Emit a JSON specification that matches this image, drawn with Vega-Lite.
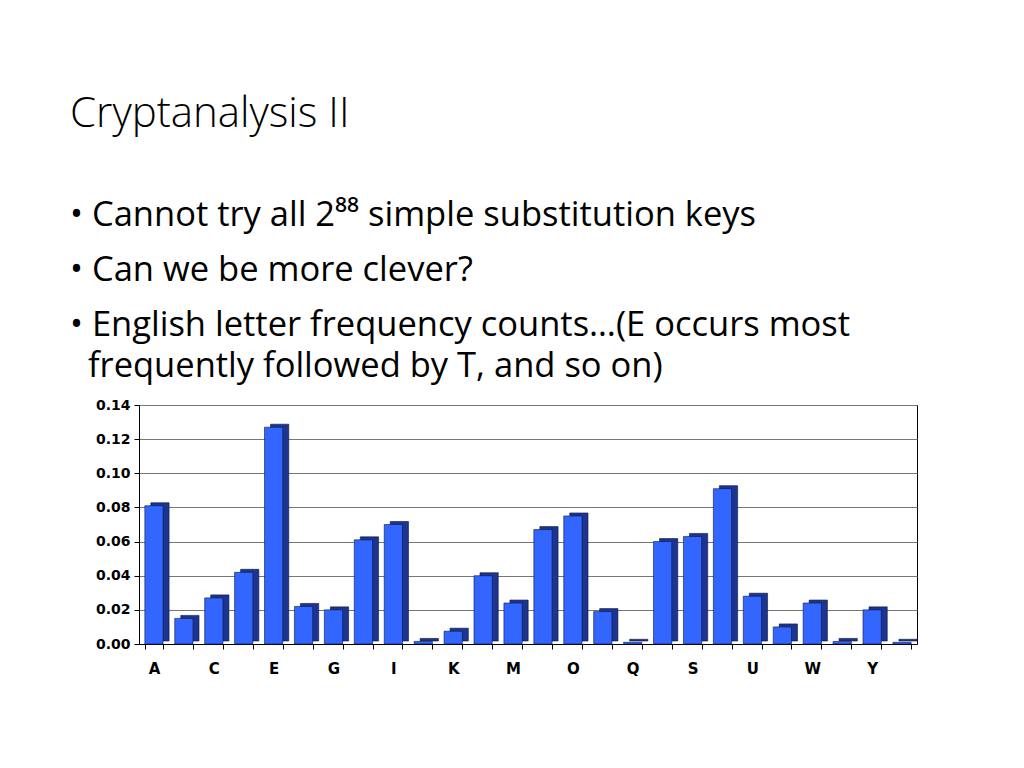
{
  "$schema": "https://vega.github.io/schema/vega-lite/v6.json",
  "width": 778,
  "height": 239,
  "autosize": "none",
  "padding": {"left": 139, "top": 405, "right": 107, "bottom": 124},
  "background": "white",
  "title": {
    "text": "Cryptanalysis II",
    "subtitle": [
      "• Cannot try all 2⁸⁸ simple substitution keys",
      "\u200b", "\u200b", "\u200b",
      "• Can we be more clever?",
      "\u200b", "\u200b", "\u200b",
      "• English letter frequency counts…(E occurs most",
      "\u200b", "\u200b",
      "\u200b\u00a0\u00a0frequently followed by T, and so on)"
    ],
    "anchor": "start",
    "frame": "group",
    "dx": -69,
    "offset": 13,
    "font": "Open Sans",
    "fontSize": 42,
    "fontWeight": 300,
    "color": "black",
    "subtitleFont": "Open Sans",
    "subtitleFontSize": 34.5,
    "subtitleFontWeight": "normal",
    "subtitleColor": "black",
    "subtitleLineHeight": 13.8,
    "subtitlePadding": 63
  },
  "data": {
    "values": [
      {"letter": "A", "freq": 0.081},
      {"letter": "B", "freq": 0.015},
      {"letter": "C", "freq": 0.027},
      {"letter": "D", "freq": 0.042},
      {"letter": "E", "freq": 0.127},
      {"letter": "F", "freq": 0.022},
      {"letter": "G", "freq": 0.020},
      {"letter": "H", "freq": 0.061},
      {"letter": "I", "freq": 0.070},
      {"letter": "J", "freq": 0.0015},
      {"letter": "K", "freq": 0.0075},
      {"letter": "L", "freq": 0.040},
      {"letter": "M", "freq": 0.024},
      {"letter": "N", "freq": 0.067},
      {"letter": "O", "freq": 0.075},
      {"letter": "P", "freq": 0.019},
      {"letter": "Q", "freq": 0.001},
      {"letter": "R", "freq": 0.060},
      {"letter": "S", "freq": 0.063},
      {"letter": "T", "freq": 0.091},
      {"letter": "U", "freq": 0.028},
      {"letter": "V", "freq": 0.010},
      {"letter": "W", "freq": 0.024},
      {"letter": "X", "freq": 0.0015},
      {"letter": "Y", "freq": 0.020},
      {"letter": "Z", "freq": 0.001}
    ]
  },
  "encoding": {
    "x": {
      "field": "letter",
      "type": "nominal",
      "sort": null,
      "scale": {"paddingInner": 0.39, "paddingOuter": 0.195},
      "axis": {
        "title": null,
        "labelAngle": 0,
        "tickBand": "extent",
        "labelExpr": "indexof('ACEGIKMOQSUWY', datum.value) >= 0 ? datum.value : ''",
        "labelFont": "DejaVu Sans",
        "labelFontWeight": "bold",
        "labelFontSize": 15,
        "labelColor": "black",
        "labelPadding": 12,
        "tickColor": "black",
        "tickSize": 5,
        "domainColor": "black",
        "grid": false
      }
    },
    "y": {
      "field": "freq",
      "type": "quantitative",
      "scale": {"domain": [0, 0.14], "nice": false},
      "axis": {
        "title": null,
        "values": [0, 0.02, 0.04, 0.06, 0.08, 0.1, 0.12, 0.14],
        "format": ".2f",
        "labelFont": "DejaVu Sans",
        "labelFontWeight": "bold",
        "labelFontSize": 14,
        "labelColor": "black",
        "labelPadding": 4,
        "tickColor": "black",
        "tickSize": 5,
        "domainColor": "black",
        "gridColor": "#777777",
        "gridWidth": 1
      }
    }
  },
  "layer": [
    {
      "mark": {"type": "bar", "color": "#1d3590", "xOffset": 6, "yOffset": -3, "stroke": "#0a1540", "strokeWidth": 0.6}
    },
    {
      "mark": {"type": "bar", "color": "#3366ff", "stroke": "#0a1540", "strokeWidth": 0.6}
    }
  ],
  "config": {
    "view": {"stroke": "black", "strokeWidth": 1}
  }
}
